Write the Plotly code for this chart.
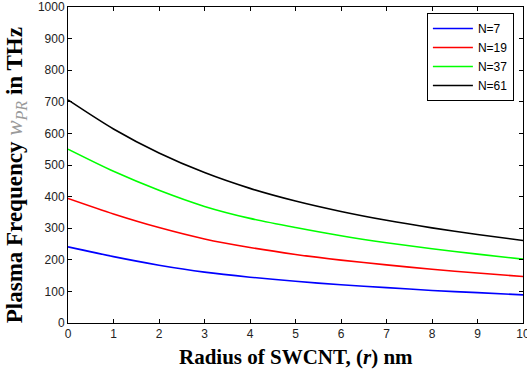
import plotly.graph_objects as go

radius = [0, 1, 2, 3, 4, 5, 6, 7, 8, 9, 10]
n7 = [241, 210, 183, 161, 145, 132, 121, 112, 103, 96, 89]
n19 = [394, 345, 302, 266, 239, 217, 199, 184, 170, 158, 147]
n37 = [550, 480, 420, 369, 331, 302, 276, 254, 235, 218, 202]
n61 = [706, 614, 538, 476, 426, 386, 353, 325, 301, 280, 261]
series = [("N=7", n7, "#0000ff"), ("N=19", n19, "#ff0000"),
          ("N=37", n37, "#00ff00"), ("N=61", n61, "#000000")]
xticks = list(range(0, 11))
yticks = list(range(0, 1001, 100))

fig = go.Figure()
for name, vals, col in series:
    fig.add_trace(go.Scatter(x=radius, y=vals, mode="lines", name=name,
                             line=dict(color=col, width=1.6, shape="spline", smoothing=0.8)))

axis_common = dict(showline=True, linecolor="black", linewidth=1, mirror="ticks",
                   ticks="inside", ticklen=4, tickcolor="black", showgrid=False,
                   zeroline=False, automargin=False, ticklabeloverflow="allow",
                   tickfont=dict(family="Liberation Sans, Arial", size=12, color="#222"))
fig.update_xaxes(range=[0, 10], tickvals=xticks, **axis_common)
fig.update_yaxes(range=[0, 1000], tickvals=yticks, **axis_common)
fig.add_annotation(text="<b>Radius of SWCNT, (<i>r</i>) nm</b>",
                   xref="paper", yref="paper", x=0.5, y=-0.107,
                   showarrow=False, xanchor="center", yanchor="middle",
                   font=dict(family="Liberation Serif, Times New Roman", size=21, color="black"))
fig.add_annotation(text="<b>Plasma Frequency </b><span style='color:#9a9a9a'><i>w</i><sub><i>PR</i></sub></span><b> in THz</b>",
                   xref="paper", yref="paper", x=-0.114, y=0.468, textangle=-90,
                   showarrow=False, xanchor="center", yanchor="middle",
                   font=dict(family="Liberation Serif, Times New Roman", size=23, color="black"))
fig.update_layout(width=527, height=374, margin=dict(l=68, r=4, t=7, b=51),
                  plot_bgcolor="white", paper_bgcolor="white",
                  legend=dict(x=0.98, y=0.981, xanchor="right", yanchor="top",
                              bgcolor="white", bordercolor="black", borderwidth=1,
                              font=dict(family="Liberation Sans, Arial", size=12, color="black"),
                              itemwidth=40))
fig.write_html("out.html", config={"displayModeBar": False},
               post_script="document.body.style.margin='0';")
